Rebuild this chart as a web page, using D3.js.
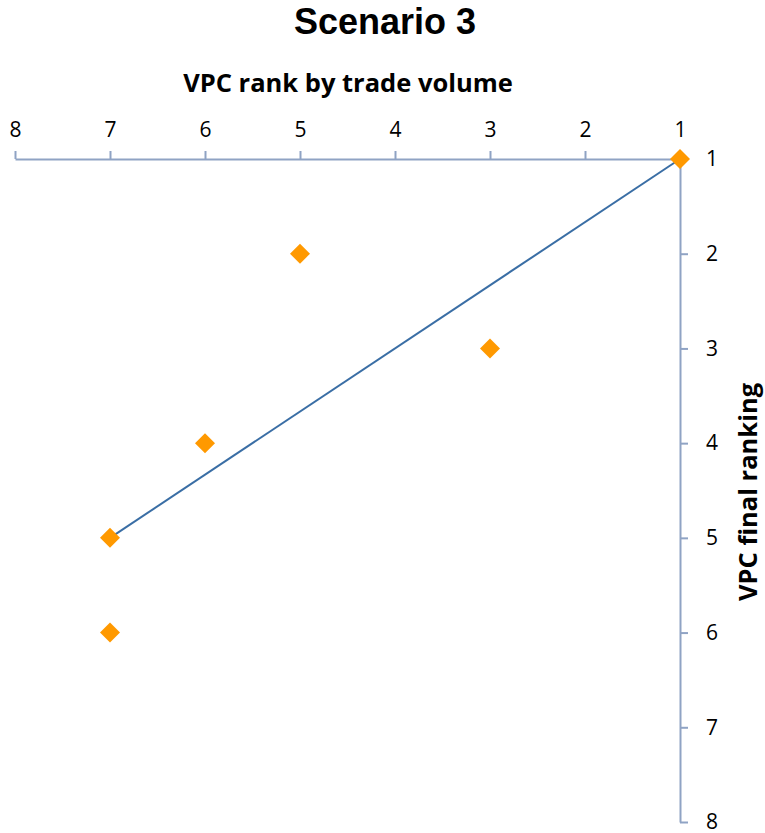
<!DOCTYPE html>
<html>
<head>
<meta charset="utf-8">
<script src="https://cdn.jsdelivr.net/npm/d3@7"></script>
<style>
  body { margin: 0; background: #fff; }
  text { font-family: "Open Sans", "DejaVu Sans", sans-serif; }
</style>
</head>
<body>
<svg></svg>
<script>
let tradeRank = [1, 5, 3, 6, 7, 7]
let finalRank = [1, 2, 3, 4, 5, 6]
let trendX = [1, 7]
let trendY = [1, 5]
let tickValues = [1, 2, 3, 4, 5, 6, 7, 8]

let width = 765
let height = 833

let svg = d3.select('svg')
            .attr('width', width)
            .attr('height', height)

// x axis is reversed: 8 on the left, 1 on the right
let x = d3.scaleLinear().domain([8, 1]).range([15, 680])
let y = d3.scaleLinear().domain([1, 8]).range([159, 822])

let axisColor = '#8fa3c4'

// title
svg.append('text')
    .attr('x', 385).attr('y', 34)
    .attr('text-anchor', 'middle')
    .style('font-family', '"Liberation Sans", Arial, sans-serif')
    .style('font-weight', 'bold')
    .style('font-size', '36px')
    .text('Scenario 3')

svg.append('text')
    .attr('x', 348).attr('y', 92)
    .attr('text-anchor', 'middle')
    .style('font-weight', 'bold')
    .style('font-size', '25.5px')
    .text('VPC rank by trade volume')

let xAxis = svg.append('g')
    .attr('transform', `translate(0,${y(1)})`)
    .call(d3.axisTop(x).tickValues(tickValues).tickFormat(d3.format('d'))
            .tickSize(8).tickPadding(14).tickSizeOuter(0))
xAxis.select('.domain').attr('stroke', axisColor).attr('stroke-width', 2)
xAxis.selectAll('.tick line').attr('stroke', axisColor).attr('stroke-width', 2)
xAxis.selectAll('.tick text').style('font-size', '21px').attr('fill', '#000')
    .style('font-family', '"Open Sans", sans-serif')

let yAxis = svg.append('g')
    .attr('transform', `translate(${x(1)},0)`)
    .call(d3.axisRight(y).tickValues(tickValues).tickFormat(d3.format('d'))
            .tickSize(8).tickPadding(18).tickSizeOuter(0))
yAxis.select('.domain').attr('stroke', axisColor).attr('stroke-width', 2)
yAxis.selectAll('.tick line').attr('stroke', axisColor).attr('stroke-width', 2)
yAxis.selectAll('.tick text').style('font-size', '21px').attr('fill', '#000')
    .style('font-family', '"Open Sans", sans-serif')

svg.append('text')
    .attr('transform', 'translate(757,492) rotate(-90)')
    .attr('text-anchor', 'middle')
    .style('font-weight', 'bold')
    .style('font-size', '25.5px')
    .text('VPC final ranking')

// trend line
let line = d3.line().x(d => x(d[0])).y(d => y(d[1]))
svg.append('path')
    .attr('d', line(d3.zip(trendX, trendY)))
    .attr('fill', 'none')
    .attr('stroke', '#3a6ea5')
    .attr('stroke-width', 2)

// diamonds
let diamond = d3.symbol().type(d3.symbolSquare).size(200)
svg.selectAll('.pt')
    .data(d3.zip(tradeRank, finalRank))
    .enter()
    .append('path')
    .attr('class', 'pt')
    .attr('d', diamond)
    .attr('transform', d => `translate(${x(d[0])},${y(d[1])}) rotate(45)`)
    .attr('fill', '#ff9900')
</script>
</body>
</html>
